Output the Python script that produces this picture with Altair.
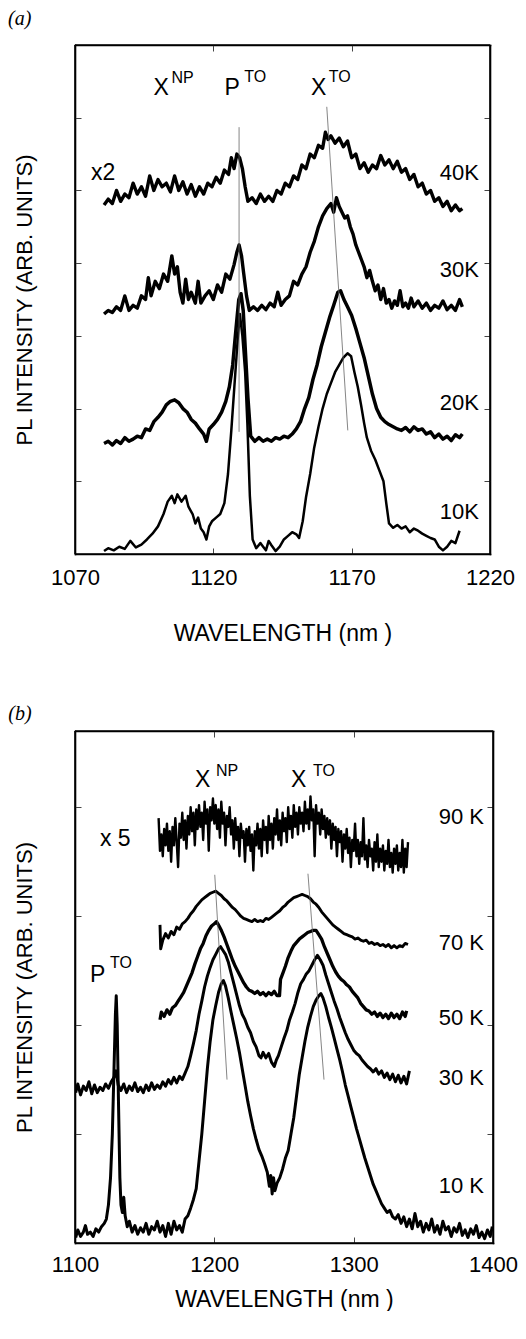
import altair as alt
import pandas as pd

FONT = "Liberation Sans"

# ---------------- panel (a) ----------------
A_X_LABELS = [1070, 1120, 1170, 1220]
A_X_INNER = [1120, 1170]
A_Y_INNER = [1, 2, 3, 4, 5, 6]

A_10K = [(1080.5,0.04),(1082,0.08),(1084,0.05),(1086,0.1),(1088,0.07),(1090,0.18),(1092,0.09),(1094,0.13),(1096,0.2),(1098,0.28),(1100,0.38),(1102,0.55),(1103.5,0.72),(1105,0.8),(1106,0.7),(1107,0.82),(1108.5,0.72),(1110,0.8),(1111,0.65),(1112.5,0.55),(1113.5,0.42),(1114.5,0.5),(1115.5,0.35),(1116.5,0.3),(1117.5,0.2),(1118.5,0.38),(1119.5,0.45),(1121,0.5),(1122.5,0.55),(1124,0.7),(1125.3,1.1),(1126.5,1.7),(1127.6,2.3),(1128.8,2.95),(1129.6,3.3),(1130.5,3.0),(1131.5,2.5),(1132.3,1.8),(1133.2,0.8),(1134.2,0.2),(1135.5,0.08),(1137,0.15),(1138,0.1),(1139,0.05),(1140,0.18),(1141,0.12),(1142.5,0.04),(1144,0.1),(1145.5,0.2),(1147,0.25),(1148.5,0.3),(1150,0.27),(1151,0.22),(1152.3,0.45),(1153.5,0.78),(1155,1.1),(1156.4,1.45),(1158,1.75),(1159.5,2.0),(1161,2.2),(1162.5,2.35),(1164,2.5),(1165.5,2.6),(1167,2.7),(1168.5,2.76),(1169.8,2.72),(1171,2.5),(1172.2,2.3),(1173.4,2.05),(1174.5,1.8),(1175.5,1.6),(1177,1.42),(1178.5,1.3),(1180,1.15),(1181.5,1.0),(1182.5,0.7),(1183.5,0.42),(1185,0.36),(1186.5,0.4),(1188,0.35),(1189.5,0.38),(1191,0.3),(1192.5,0.35),(1194,0.32),(1195.5,0.28),(1197,0.25),(1198.5,0.22),(1200,0.2),(1201.5,0.1),(1203,0.05),(1204.5,0.1),(1206,0.18),(1207.5,0.15),(1209,0.32)]

A_20K = [(1080.5,1.52),(1082,1.55),(1083.5,1.5),(1085,1.56),(1086.5,1.52),(1088,1.6),(1089.5,1.55),(1091,1.58),(1092.5,1.62),(1094,1.6),(1095.5,1.72),(1097,1.7),(1098.5,1.82),(1100,1.88),(1101.5,1.95),(1103,2.05),(1104.5,2.1),(1106,2.12),(1107.5,2.08),(1109,2.0),(1110.5,1.95),(1112,1.85),(1113.5,1.8),(1115,1.72),(1116.5,1.65),(1117.5,1.55),(1118.5,1.72),(1120,1.78),(1121.5,1.85),(1123,1.95),(1124.5,2.1),(1125.8,2.3),(1127,2.6),(1128.2,3.1),(1129.2,3.5),(1130,3.58),(1130.8,3.35),(1131.5,2.85),(1132.5,2.15),(1133.5,1.62),(1135,1.55),(1136.5,1.6),(1138,1.55),(1139.5,1.58),(1141,1.55),(1142.5,1.6),(1144,1.58),(1145.5,1.62),(1147,1.6),(1148.5,1.65),(1150,1.72),(1151.5,1.82),(1153,2.0),(1154.5,2.15),(1156,2.4),(1157.5,2.6),(1159,2.85),(1160.5,3.05),(1162,3.25),(1163.5,3.42),(1165,3.6),(1166,3.62),(1167.2,3.5),(1168.5,3.4),(1170,3.28),(1171.5,3.1),(1173,2.9),(1174.5,2.7),(1176,2.45),(1177.5,2.2),(1179,2.0),(1180.5,1.88),(1182,1.82),(1183.5,1.78),(1185,1.75),(1186.5,1.72),(1188,1.7),(1189.5,1.74),(1191,1.68),(1192.5,1.75),(1194,1.7),(1195.5,1.72),(1197,1.65),(1198.5,1.68),(1200,1.6),(1201.5,1.65),(1203,1.58),(1204.5,1.62),(1206,1.56),(1207.5,1.64),(1209,1.6),(1210,1.65)]

A_30K = [(1080.5,3.3),(1082,3.35),(1083.5,3.32),(1085,3.4),(1086.5,3.35),(1088,3.55),(1089.5,3.35),(1091,3.42),(1092.5,3.38),(1094,3.55),(1095.5,3.5),(1096.5,3.8),(1097.5,3.55),(1099,3.75),(1100.5,3.65),(1102,3.85),(1103.5,3.75),(1105,4.1),(1106,3.85),(1107,3.95),(1108,3.6),(1109,3.45),(1110,3.78),(1111,3.5),(1112,3.6),(1113.5,3.45),(1114.5,3.75),(1115.5,3.45),(1117,3.55),(1118.5,3.62),(1120,3.5),(1121.5,3.7),(1123,3.6),(1124.5,3.85),(1126,3.78),(1127.5,3.98),(1128.5,4.15),(1129.3,4.25),(1130.2,4.1),(1131,3.85),(1132,3.55),(1133,3.35),(1134.5,3.4),(1136,3.35),(1137.5,3.42),(1139,3.36),(1140.5,3.45),(1142,3.4),(1143.3,3.6),(1144.5,3.42),(1146,3.5),(1147.5,3.55),(1149,3.75),(1150.5,3.7),(1152,3.85),(1153.5,3.95),(1155,4.15),(1156.5,4.3),(1158,4.5),(1159.5,4.65),(1161,4.75),(1162.5,4.82),(1163.5,4.7),(1164.5,4.9),(1165.5,4.78),(1166.5,4.7),(1167.5,4.62),(1168.5,4.65),(1169.5,4.5),(1170.5,4.4),(1171.5,4.25),(1172.5,4.15),(1173.5,4.05),(1174.5,3.95),(1175.5,3.8),(1176.5,3.9),(1177.5,3.75),(1178.5,3.62),(1179.5,3.7),(1180.5,3.5),(1181.5,3.65),(1182.5,3.45),(1183.5,3.5),(1184.5,3.38),(1185.5,3.48),(1186.5,3.42),(1187.5,3.62),(1188.5,3.4),(1189.5,3.45),(1190.5,3.38),(1191.5,3.52),(1192.5,3.4),(1194,3.48),(1195.5,3.38),(1197,3.45),(1198.5,3.35),(1200,3.42),(1201.5,3.38),(1203,3.48),(1204.5,3.36),(1206,3.42),(1207.5,3.35),(1209,3.5),(1210,3.4)]

A_40K = [(1080.5,4.8),(1082,4.88),(1083.5,4.82),(1085,5.0),(1086.5,4.85),(1088,4.95),(1089.5,4.9),(1091,5.1),(1092.5,4.95),(1094,5.05),(1095.5,4.92),(1097,5.2),(1098.5,5.0),(1100,5.15),(1101.5,5.05),(1103,5.1),(1104.5,4.98),(1106,5.2),(1107.5,5.0),(1109,5.12),(1110.5,4.95),(1112,5.08),(1113.5,4.92),(1115,5.05),(1116.5,4.95),(1118,5.1),(1119.5,5.05),(1121,5.18),(1122.5,5.1),(1124,5.28),(1125.5,5.22),(1126.5,5.45),(1127.5,5.3),(1128.5,5.5),(1129.5,5.45),(1130.5,5.3),(1131.5,5.05),(1132.5,4.85),(1134,4.9),(1135.5,4.82),(1137,4.95),(1138.5,4.85),(1140,4.92),(1141.5,4.85),(1143,5.0),(1144.5,4.95),(1146,5.1),(1147.5,5.05),(1149,5.2),(1150.5,5.15),(1152,5.35),(1153.5,5.3),(1155,5.5),(1156.5,5.45),(1158,5.62),(1159.5,5.58),(1160.5,5.8),(1161.5,5.7),(1162.5,5.75),(1164,5.65),(1165.5,5.72),(1167,5.6),(1168.5,5.68),(1170,5.45),(1171.5,5.5),(1173,5.3),(1174.5,5.38),(1176,5.25),(1177.5,5.35),(1179,5.3),(1180.5,5.48),(1182,5.35),(1183.5,5.42),(1185,5.3),(1186.5,5.4),(1188,5.25),(1189.5,5.3),(1191,5.15),(1192.5,5.22),(1194,5.05),(1195.5,5.1),(1197,4.95),(1198.5,5.0),(1200,4.85),(1201.5,4.9),(1203,4.78),(1204.5,4.85),(1206,4.72),(1207.5,4.8),(1209,4.72),(1210,4.75)]

A_MARKERS = [(1129.3, 5.87, 1129.3, 1.68), (1161.0, 6.15, 1168.6, 1.70)]
A_MAIN_LBL = [("X", 1098.4, 6.31), ("P", 1124.0, 6.31), ("X", 1155.3, 6.31), ("x2", 1075.8, 5.14)]
A_SUP_LBL = [("NP", 1104.9, 6.48), ("TO", 1131.2, 6.49), ("TO", 1161.7, 6.49)]
A_T_LBL = [("40K", 1216, 5.14), ("30K", 1216, 3.81), ("20K", 1216, 1.98), ("10K", 1216, 0.48)]
A_PANEL_LBL = [("(a)", 1045.8, 7.5)]

# ---------------- panel (b) ----------------
B_X_LABELS = [1100, 1200, 1300, 1400]
B_X_INNER = [1200, 1300]
B_Y_INNER = [1, 2, 3, 4]

B_10K = [(1100.5,0.05),(1102,0.12),(1104,0.06),(1106,0.1),(1107.5,0.16),(1109,0.08),(1111,0.1),(1113,0.06),(1115,0.13),(1117,0.1),(1119,0.15),(1121,0.18),(1122.5,0.22),(1124,0.35),(1125.5,0.6),(1126.8,1.0),(1128,1.6),(1129,2.1),(1129.6,2.27),(1130.3,2.0),(1131.2,1.3),(1132.2,0.6),(1133,0.35),(1134,0.28),(1135,0.42),(1136,0.25),(1137.5,0.15),(1139,0.2),(1141,0.1),(1143,0.16),(1145,0.08),(1147,0.14),(1149,0.1),(1151,0.18),(1153,0.08),(1155,0.15),(1157,0.12),(1159,0.2),(1161,0.1),(1163,0.16),(1165,0.06),(1167,0.18),(1169,0.08),(1171,0.2),(1173,0.12),(1175,0.16),(1177,0.1),(1179,0.22),(1181,0.25),(1183,0.32),(1185,0.4),(1187,0.5),(1189,0.75),(1191,1.0),(1193,1.3),(1195,1.6),(1197,1.85),(1199,2.05),(1201,2.18),(1203,2.3),(1205,2.38),(1206.5,2.41),(1208,2.36),(1210,2.25),(1212,2.12),(1214,2.0),(1216,1.88),(1218,1.75),(1220,1.6),(1222,1.45),(1224,1.3),(1226,1.17),(1228,1.05),(1230,0.95),(1232,0.86),(1234,0.8),(1236,0.73),(1238,0.65),(1239.5,0.52),(1240.5,0.62),(1241.5,0.45),(1242.5,0.6),(1243.5,0.48),(1245,0.55),(1247,0.6),(1249,0.68),(1251,0.78),(1253,0.85),(1255,1.0),(1257,1.15),(1259,1.35),(1261,1.55),(1263,1.7),(1265,1.85),(1267,1.98),(1269,2.08),(1271,2.17),(1273,2.23),(1275,2.27),(1276.5,2.29),(1278,2.25),(1280,2.17),(1282,2.07),(1284,1.98),(1286,1.88),(1288,1.78),(1290,1.68),(1292,1.57),(1294,1.45),(1296,1.35),(1298,1.25),(1300,1.15),(1302,1.05),(1304,0.96),(1306,0.87),(1308,0.78),(1310,0.7),(1312,0.62),(1314,0.54),(1316,0.48),(1318,0.42),(1320,0.36),(1322,0.32),(1324,0.28),(1326,0.3),(1328,0.24),(1330,0.22),(1332,0.26),(1334,0.18),(1336,0.24),(1338,0.15),(1340,0.22),(1342,0.13),(1344,0.27),(1346,0.15),(1348,0.2),(1350,0.1),(1352,0.18),(1354,0.12),(1356,0.22),(1358,0.1),(1360,0.16),(1362,0.08),(1364,0.2),(1366,0.12),(1368,0.15),(1370,0.06),(1372,0.14),(1374,0.1),(1376,0.18),(1378,0.07),(1380,0.12),(1382,0.05),(1384,0.13),(1386,0.08),(1388,0.16),(1390,0.05),(1392,0.1),(1394,0.04),(1396,0.12),(1398,0.06),(1399.5,0.15)]

B_30K = [(1100.5,1.38),(1102,1.46),(1104,1.36),(1106,1.44),(1108,1.4),(1110,1.48),(1112,1.37),(1114,1.45),(1116,1.38),(1118,1.43),(1120,1.4),(1122,1.46),(1124,1.42),(1126,1.48),(1128,1.52),(1129.5,1.58),(1131,1.45),(1133,1.4),(1135,1.46),(1137,1.38),(1139,1.44),(1141,1.4),(1143,1.47),(1145,1.39),(1147,1.43),(1149,1.38),(1151,1.45),(1153,1.4),(1155,1.47),(1157,1.41),(1159,1.45),(1161,1.42),(1163,1.48),(1165,1.44),(1167,1.5),(1169,1.46),(1171,1.52),(1173,1.47),(1175,1.53),(1177,1.5),(1179,1.56),(1181,1.62),(1183,1.72),(1185,1.83),(1187,1.95),(1189,2.1),(1191,2.22),(1193,2.35),(1195,2.45),(1197,2.53),(1199,2.6),(1201,2.65),(1203,2.7),(1204.5,2.72),(1206,2.69),(1208,2.65),(1210,2.58),(1212,2.48),(1214,2.38),(1216,2.28),(1218,2.18),(1220,2.1),(1222,2.05),(1224,1.98),(1226,1.93),(1228,1.85),(1230,1.8),(1232,1.72),(1233.5,1.7),(1235,1.75),(1237,1.7),(1239,1.74),(1241,1.66),(1243,1.62),(1244.5,1.68),(1246,1.72),(1248,1.8),(1250,1.88),(1252,1.95),(1254,2.05),(1256,2.12),(1258,2.2),(1260,2.3),(1262,2.38),(1264,2.42),(1266,2.47),(1268,2.5),(1270,2.55),(1272,2.6),(1274,2.64),(1276,2.6),(1278,2.55),(1280,2.46),(1282,2.38),(1284,2.3),(1286,2.22),(1288,2.15),(1290,2.07),(1292,2.0),(1294,1.93),(1296,1.87),(1298,1.82),(1300,1.77),(1302,1.74),(1304,1.72),(1306,1.68),(1308,1.65),(1310,1.62),(1312,1.6),(1314,1.57),(1316,1.6),(1318,1.55),(1320,1.58),(1322,1.52),(1324,1.56),(1326,1.5),(1328,1.55),(1330,1.48),(1332,1.54),(1334,1.47),(1336,1.53),(1338,1.46),(1340,1.58)]

B_50K = [(1161,2.05),(1162,2.12),(1164,2.08),(1166,2.14),(1168,2.1),(1170,2.16),(1172,2.18),(1174,2.22),(1176,2.26),(1178,2.3),(1180,2.36),(1182,2.42),(1184,2.48),(1186,2.56),(1188,2.63),(1190,2.7),(1192,2.75),(1194,2.82),(1196,2.87),(1198,2.91),(1200,2.93),(1201.5,2.95),(1203,2.92),(1205,2.87),(1207,2.81),(1209,2.74),(1211,2.67),(1213,2.6),(1215,2.54),(1217,2.49),(1219,2.44),(1221,2.39),(1223,2.35),(1225,2.32),(1227,2.31),(1229,2.29),(1231,2.31),(1233,2.28),(1235,2.3),(1237,2.27),(1239,2.3),(1241,2.28),(1243,2.31),(1245,2.27),(1246.8,2.27),(1247.5,2.42),(1249,2.47),(1251,2.54),(1253,2.62),(1255,2.68),(1257,2.73),(1259,2.76),(1261,2.79),(1263,2.81),(1265,2.83),(1267,2.85),(1269,2.86),(1271,2.87),(1273,2.87),(1275,2.83),(1277,2.79),(1279,2.72),(1281,2.66),(1283,2.6),(1285,2.54),(1287,2.49),(1289,2.45),(1291,2.42),(1293,2.4),(1295,2.37),(1297,2.35),(1299,2.31),(1301,2.28),(1303,2.25),(1305,2.2),(1307,2.17),(1309,2.14),(1311,2.13),(1313,2.1),(1315,2.12),(1317,2.08),(1319,2.11),(1321,2.07),(1323,2.1),(1325,2.06),(1327,2.11),(1329,2.07),(1331,2.1),(1333,2.06),(1335,2.12),(1337,2.08),(1338,2.13)]

B_70K = [(1161,2.92),(1161.5,2.7),(1163,2.78),(1165,2.84),(1167,2.8),(1169,2.86),(1171,2.83),(1173,2.9),(1175,2.88),(1177,2.93),(1179,2.95),(1181,2.98),(1183,3.02),(1185,3.05),(1187,3.09),(1189,3.12),(1191,3.15),(1193,3.17),(1195,3.19),(1197,3.21),(1199,3.22),(1201,3.23),(1203,3.21),(1205,3.19),(1207,3.16),(1209,3.14),(1211,3.11),(1213,3.08),(1215,3.06),(1217,3.03),(1219,3.0),(1221,2.98),(1223,2.97),(1225,2.96),(1227,2.95),(1229,2.97),(1231,2.95),(1233,2.96),(1235,2.95),(1237,2.98),(1239,2.97),(1241,2.99),(1243,3.01),(1245,3.03),(1247,3.05),(1249,3.08),(1251,3.1),(1253,3.13),(1255,3.15),(1257,3.17),(1259,3.18),(1261,3.19),(1263,3.2),(1265,3.19),(1267,3.18),(1269,3.16),(1271,3.13),(1273,3.11),(1275,3.08),(1277,3.04),(1279,3.01),(1281,2.98),(1283,2.95),(1285,2.92),(1287,2.9),(1289,2.88),(1291,2.86),(1293,2.84),(1295,2.83),(1297,2.82),(1299,2.81),(1301,2.79),(1303,2.8),(1305,2.78),(1307,2.77),(1309,2.78),(1311,2.75),(1313,2.76),(1315,2.74),(1317,2.75),(1319,2.73),(1321,2.74),(1323,2.72),(1325,2.74),(1327,2.71),(1329,2.73),(1331,2.71),(1333,2.73),(1335,2.72),(1337,2.75),(1339,2.74)]

B_90K = [(1160,3.9),(1161,3.6),(1162,3.75),(1163,3.55),(1164,3.8),(1165,3.65),(1166,3.85),(1167,3.6),(1168,3.78),(1169,3.5),(1170,3.82),(1171,3.65),(1172,3.9),(1173,3.68),(1174,3.45),(1175,3.85),(1176,3.72),(1177,3.95),(1178,3.7),(1179,3.88),(1180,3.62),(1181,3.92),(1182,3.75),(1183,4.0),(1184,3.78),(1185,3.95),(1186,3.65),(1187,3.98),(1188,3.8),(1189,4.02),(1190,3.82),(1191,3.95),(1192,3.7),(1193,4.05),(1194,3.85),(1195,3.98),(1196,3.6),(1197,4.0),(1198,3.88),(1199,4.08),(1200,3.85),(1201,4.02),(1202,3.8),(1203,3.98),(1204,3.72),(1205,4.05),(1206,3.85),(1207,3.95),(1208,3.65),(1209,3.92),(1210,3.82),(1211,4.0),(1212,3.75),(1213,3.88),(1214,3.62),(1215,3.9),(1216,3.7),(1217,3.82),(1218,3.55),(1219,3.85),(1220,3.72),(1221,3.78),(1222,3.5),(1223,3.8),(1224,3.65),(1225,3.82),(1226,3.6),(1227,3.75),(1228,3.42),(1229,3.78),(1230,3.65),(1231,3.85),(1232,3.62),(1233,3.8),(1234,3.55),(1235,3.88),(1236,3.7),(1237,3.82),(1238,3.58),(1239,3.92),(1240,3.7),(1241,3.85),(1242,3.62),(1243,3.9),(1244,3.75),(1245,3.98),(1246,3.7),(1247,3.88),(1248,3.65),(1249,3.95),(1250,3.78),(1251,3.9),(1252,3.68),(1253,4.0),(1254,3.8),(1255,3.92),(1256,3.72),(1257,4.02),(1258,3.82),(1259,3.95),(1260,3.75),(1261,4.0),(1262,3.85),(1263,3.95),(1264,3.78),(1265,4.05),(1266,3.85),(1267,3.98),(1268,3.8),(1269,4.1),(1270,3.88),(1271,3.98),(1272,3.55),(1273,4.02),(1274,3.85),(1275,3.95),(1276,3.75),(1277,3.98),(1278,3.8),(1279,3.92),(1280,3.72),(1281,3.9),(1282,3.75),(1283,3.88),(1284,3.62),(1285,3.85),(1286,3.7),(1287,3.82),(1288,3.55),(1289,3.8),(1290,3.68),(1291,3.78),(1292,3.5),(1293,3.75),(1294,3.62),(1295,3.8),(1296,3.58),(1297,3.72),(1298,3.45),(1299,3.7),(1300,3.6),(1301,3.85),(1302,3.55),(1303,3.7),(1304,3.48),(1305,3.68),(1306,3.55),(1307,3.9),(1308,3.52),(1309,3.65),(1310,3.45),(1311,3.7),(1312,3.55),(1313,3.62),(1314,3.42),(1315,3.68),(1316,3.5),(1317,3.75),(1318,3.45),(1319,3.62),(1320,3.5),(1321,3.65),(1322,3.42),(1323,3.6),(1324,3.48),(1325,3.7),(1326,3.45),(1327,3.58),(1328,3.4),(1329,3.62),(1330,3.48),(1331,3.65),(1332,3.42),(1333,3.58),(1334,3.45),(1335,3.7),(1336,3.4),(1337,3.62),(1338,3.45),(1339,3.68)]

B_MARKERS = [(1200.3, 3.38, 1209.1, 1.50), (1267.2, 3.39, 1278.7, 1.50)]
B_MAIN_LBL = [("X", 1186.1, 4.19), ("X", 1255.0, 4.19), ("P", 1110.8, 2.40), ("x 5", 1117.9, 3.64)]
B_SUP_LBL = [("NP", 1201.2, 4.29), ("TO", 1270.8, 4.29), ("TO", 1125.1, 2.52)]
B_T_LBL = [("90 K", 1393.5, 3.85), ("70 K", 1393.5, 2.69), ("50 K", 1393.5, 2.00), ("30 K", 1393.5, 1.45), ("10 K", 1393.5, 0.46)]
B_PANEL_LBL = [("(b)", 1052.1, 4.95)]


def df_xy(pairs):
    return pd.DataFrame(pairs, columns=["wl", "v"])


def df_lbl(items):
    return pd.DataFrame(items, columns=["t", "wl", "v"])


FRAME = dict(domain=True, domainColor="black", domainWidth=1.6, domainCap="square")


def panel(series, xdom, ydom, W, H, xlab, xin, yin, markers, main_lbl, sup_lbl, t_lbl,
          panel_lbl, lab_pad, ttl_y):
    xs = alt.Scale(domain=xdom, nice=False, zero=False)
    ys = alt.Scale(domain=ydom, nice=False, zero=False)

    ax_x_main = alt.Axis(orient="bottom", values=xlab, format="d", ticks=False, tickSize=0,
                         grid=False, labelFont=FONT, labelFontSize=22,
                         labelColor="black", labelPadding=lab_pad, labelBaseline="alphabetic",
                         labelAlign="center", labelOverlap=False, labelFlush=False,
                         labelBound=False,
                         title="WAVELENGTH (nm )", titleFont=FONT, titleFontSize=23,
                         titleFontWeight="normal", titleColor="black", titleX=W / 2,
                         titleY=ttl_y, titleBaseline="alphabetic", titleAlign="center",
                         **FRAME)
    ax_y_main = alt.Axis(orient="left", labels=False, ticks=False, tickSize=0,
                         grid=False, title="PL INTENSITY (ARB. UNITS)", titleFont=FONT,
                         titleFontSize=22, titleFontWeight="normal", titleColor="black",
                         titleAngle=-90, titleX=-44, titleY=H / 2,
                         titleBaseline="alphabetic", titleAlign="center", **FRAME)

    def tick_axis(orient, vals):
        return alt.Axis(orient=orient, values=vals, labels=False, domain=False, grid=False,
                        ticks=True, tickSize=6, offset=-6, tickColor="#444", tickWidth=1,
                        title=None)

    def frame_axis(orient):
        return alt.Axis(orient=orient, labels=False, ticks=False, tickSize=0, grid=False,
                        title=None, **FRAME)

    layers = []
    first = True
    for pairs, sw in series:
        if first:
            xa, ya = ax_x_main, ax_y_main
            first = False
        else:
            xa, ya = None, None
        layers.append(
            alt.Chart(df_xy(pairs)).mark_line(color="black", strokeWidth=sw,
                                              strokeJoin="round", clip=True).encode(
                x=alt.X("wl:Q", scale=xs, axis=xa),
                y=alt.Y("v:Q", scale=ys, axis=ya),
                order="wl:Q",
            )
        )

    # plot frame: four edges taken from the scale domains (+ top/right axis domain lines)
    x0, x1 = xdom
    y0, y1 = ydom
    edges = pd.DataFrame([(x0, y0, x0, y1), (x1, y0, x1, y1), (x0, y0, x1, y0), (x0, y1, x1, y1)],
                         columns=["ex1", "ey1", "ex2", "ey2"])
    layers.append(
        alt.Chart(edges).mark_rule(color="black", strokeWidth=1.6, clip=False).encode(
            x=alt.X("ex1:Q", scale=xs, axis=frame_axis("top")),
            y=alt.Y("ey1:Q", scale=ys, axis=frame_axis("right")),
            x2="ex2:Q", y2="ey2:Q",
        )
    )

    mk = pd.DataFrame(markers, columns=["x1", "y1", "x2", "y2"])
    layers.append(
        alt.Chart(mk).mark_rule(color="#666", strokeWidth=0.8).encode(
            x=alt.X("x1:Q", scale=xs, axis=tick_axis("bottom", xin)),
            y=alt.Y("y1:Q", scale=ys, axis=tick_axis("left", yin)),
            x2="x2:Q", y2="y2:Q",
        )
    )
    layers.append(
        alt.Chart(df_lbl(main_lbl)).mark_text(font=FONT, fontSize=23, align="left",
                                              baseline="alphabetic", color="black").encode(
            x=alt.X("wl:Q", scale=xs, axis=tick_axis("top", xin)),
            y=alt.Y("v:Q", scale=ys, axis=tick_axis("right", yin)),
            text="t:N",
        )
    )
    layers.append(
        alt.Chart(df_lbl(sup_lbl)).mark_text(font=FONT, fontSize=16, align="left",
                                             baseline="alphabetic", color="black").encode(
            x=alt.X("wl:Q", scale=xs, axis=None),
            y=alt.Y("v:Q", scale=ys, axis=None),
            text="t:N",
        )
    )
    layers.append(
        alt.Chart(df_lbl(t_lbl)).mark_text(font=FONT, fontSize=22, align="right",
                                           baseline="alphabetic", color="black").encode(
            x=alt.X("wl:Q", scale=xs, axis=None),
            y=alt.Y("v:Q", scale=ys, axis=None),
            text="t:N",
        )
    )
    layers.append(
        alt.Chart(df_lbl(panel_lbl)).mark_text(font="Liberation Serif", fontStyle="italic",
                                               fontSize=20, align="left", baseline="top",
                                               color="black").encode(
            x=alt.X("wl:Q", scale=xs, axis=None),
            y=alt.Y("v:Q", scale=ys, axis=None),
            text="t:N",
        )
    )
    return alt.layer(*layers).resolve_axis(x="independent", y="independent").properties(
        width=W, height=H)


A = panel([(A_10K, 2.5), (A_20K, 3.5), (A_30K, 3.4), (A_40K, 3.4)],
          [1070, 1220], [0, 7], 415, 509, A_X_LABELS, A_X_INNER, A_Y_INNER,
          A_MARKERS, A_MAIN_LBL, A_SUP_LBL, A_T_LBL, A_PANEL_LBL, 30, 86)

B = panel([(B_10K, 3.0), (B_30K, 3.0), (B_50K, 3.3), (B_70K, 2.9), (B_90K, 2.4)],
          [1100, 1400], [0, 4.7], 418, 512, B_X_LABELS, B_X_INNER, B_Y_INNER,
          B_MARKERS, B_MAIN_LBL, B_SUP_LBL, B_T_LBL, B_PANEL_LBL, 28, 63)

chart = alt.vconcat(A, B, spacing=58).properties(
    padding={"left": 0, "top": 0, "right": 0, "bottom": 0}
).configure_view(stroke=None)

chart.save("out.html", embed_options={"renderer": "svg", "actions": False})
